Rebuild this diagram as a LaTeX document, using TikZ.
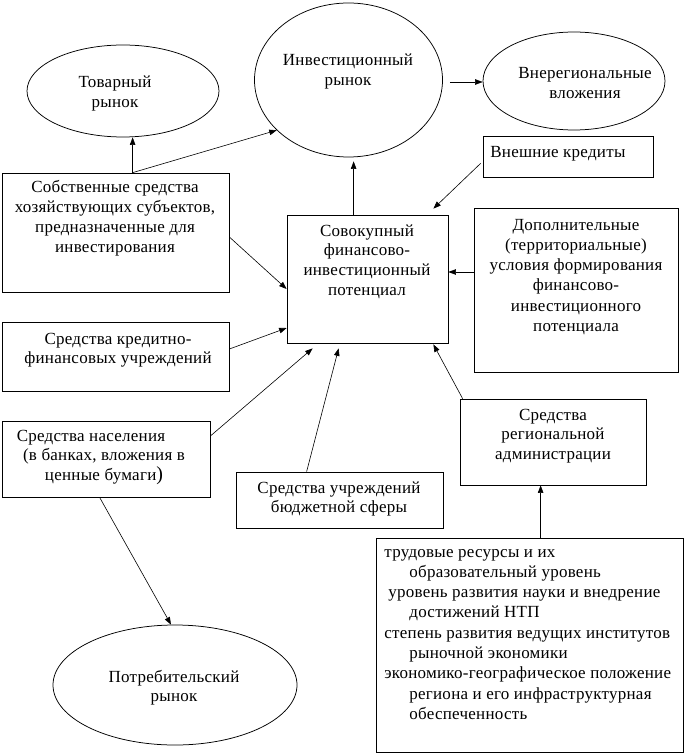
\documentclass[tikz,border=0pt]{standalone}
\usepackage{fontspec}
\setmainfont{Liberation Serif}[LetterSpace=1.5]
\usetikzlibrary{shapes.geometric,arrows.meta,calc}
\newcommand\ctxt[2]{\parbox[t]{#1}{\centering\fontsize{17}{19.9}\selectfont #2}}
\newcommand\ltxt[2]{\parbox[t]{#1}{\raggedright\fontsize{17}{20.3}\selectfont #2}}
\begin{document}
\begin{tikzpicture}[x=1pt,y=-1pt,line width=0.75pt,
  bx/.style={draw,rectangle,inner sep=0pt},
  el/.style={draw,ellipse,inner sep=0pt},
  arr/.style={-{Triangle[length=7.5pt,width=5.5pt]},line width=0.6pt},
  tx/.style={inner sep=0pt,anchor=base},
  lx/.style={inner sep=0pt,anchor=base west}]
\useasboundingbox (0,0) rectangle (685,754);
% shapes
\node[el,minimum width=192pt,minimum height=92pt] (tov) at (123,91) {};
\node[el,minimum width=188pt,minimum height=154pt] (inv) at (348.5,80) {};
\node[el,minimum width=182pt,minimum height=98pt] (vne) at (574,81) {};
\node[bx,minimum width=170pt,minimum height=41pt] (vk) at (568,156.5) {};
\node[bx,minimum width=161pt,minimum height=128pt] (sov) at (367.5,279) {};
\node[bx,minimum width=204pt,minimum height=164pt] (dop) at (576,290) {};
\node[bx,minimum width=227pt,minimum height=119pt] (sob) at (115.5,232.5) {};
\node[bx,minimum width=227pt,minimum height=69pt] (kred) at (115.5,356.5) {};
\node[bx,minimum width=208pt,minimum height=76pt] (nas) at (106,459) {};
\node[bx,minimum width=207pt,minimum height=56pt] (bud) at (339.5,500) {};
\node[bx,minimum width=186pt,minimum height=86pt] (reg) at (553,442) {};
\node[bx,minimum width=307pt,minimum height=214pt] (big) at (529.5,645) {};
\node[el,minimum width=244pt,minimum height=120pt] (pot) at (175,685) {};
% texts
\node[tx] (ttov) at (115,88) {\ctxt{150pt}{Товарный\\рынок}};
\node[tx] (tinv) at (348,66) {\ctxt{170pt}{Инвестиционный\\рынок}};
\node[tx] (tvne) at (585,79) {\ctxt{170pt}{Внерегиональные\\вложения}};
\node[lx] (tvk) at (490,158) {\ltxt{160pt}{Внешние кредиты}};
\node[tx] (tsob) at (115,193) {\ctxt{225pt}{Собственные средства\\хозяйствующих субъектов,\\предназначенные для\\инвестирования}};
\node[tx] (tkred) at (118,344) {\ctxt{225pt}{Средства кредитно-\\финансовых учреждений}};
\node[tx] (tsov) at (367,236) {\ctxt{160pt}{Совокупный\\финансово-\\инвестиционный\\потенциал}};
\node[tx] (tdop) at (576,230) {\parbox[t]{200pt}{\centering\fontsize{17}{20.3}\selectfont Дополнительные\\(территориальные)\\условия формирования\\финансово-\\инвестиционного\\потенциала}};
\node[tx] (tnas) at (104,441) {\ctxt{200pt}{Средства населения\rule{26pt}{0pt}\\(в банках, вложения в\\ценные бумаги{\fontsize{20}{20}\selectfont)}}};
\node[tx] (tbud) at (339,493) {\ctxt{200pt}{Средства учреждений\\бюджетной сферы}};
\node[tx] (treg) at (553,420) {\ctxt{180pt}{Средства\\региональной\\администрации}};
\node[lx] (tbig) at (384,557) {\ltxt{310pt}{трудовые ресурсы и их\\
\hspace*{25pt}образовательный уровень\\
\hspace*{4pt}уровень развития науки и внедрение\\
\hspace*{25pt}достижений НТП\\
степень развития ведущих институтов\\
\hspace*{25pt}рыночной экономики\\
экономико-географическое положение\\
\hspace*{25pt}региона и его инфраструктурная\\
\hspace*{25pt}обеспеченность}};
\node[tx] (tpot) at (174,682) {\ctxt{240pt}{Потребительский\\рынок}};
% connectors
\coordinate (sobtop) at ($(sob.north west)+(131,0)$);
\draw[arr] (sobtop) -- (sobtop |- tov.south);
\draw[arr] (sobtop) -- (inv.215);
\coordinate (sovtop) at ($(sov.north west)+(67,0)$);
\draw[arr] (sovtop) -- ($(sovtop |- inv.south)+(0,4)$);
\draw[arr] ($(inv.east)+(7,2)$) -- ($(vne.west)+(0,1)$);
\draw[arr] ($(vk.south west)+(-2,-14)$) -- ($(sov.north east)+(-15,-6)$);
\draw[arr] ($(dop.west)+(0,-18)$) -- ($(sov.east)+(0,-7)$);
\draw[arr] ($(sob.east)+(0,4.5)$) -- ($(sov.west)+(0,10)$);
\draw[arr] ($(kred.east)+(0,-7.5)$) -- ($(sov.west)+(0,49)$);
\draw[arr] ($(nas.east)+(0,-23)$) -- ($(sov.south west)+(26,5)$);
\draw[arr] ($(bud.north west)+(71,0)$) -- ($(sov.south west)+(52,5)$);
\draw[arr] ($(reg.north west)+(3,0)$) -- ($(sov.south east)+(-15,1)$);
\coordinate (bigtop) at ($(big.north west)+(165,0)$);
\draw[arr] (bigtop) -- (bigtop |- reg.south);
\draw[arr] ($(nas.south west)+(98,0)$) -- ($(pot.north)+(-4,0)$);
\end{tikzpicture}
\end{document}
